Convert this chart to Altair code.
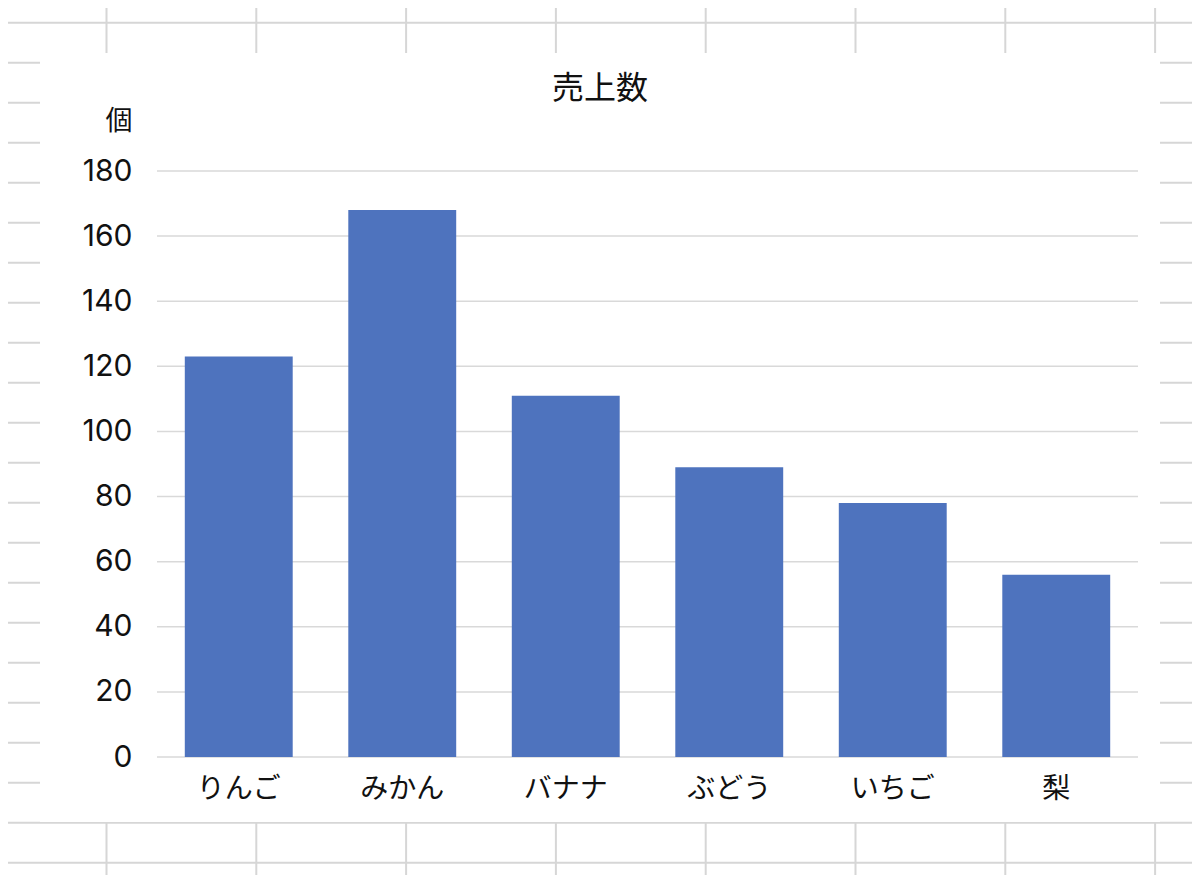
import altair as alt
import pandas as pd

# ---- data ----
categories = ["りんご", "みかん", "バナナ", "ぶどう", "いちご", "梨"]
sales = [123, 168, 111, 89, 78, 56]
y_ticks = [0, 20, 40, 60, 80, 100, 120, 140, 160, 180]
title_text = "売上数"
unit_label = "個"

df = pd.DataFrame({"fruit": categories, "sales": sales})
grid_df = pd.DataFrame({"v": y_ticks})
title_df = pd.DataFrame({"t": [title_text]})
dummy = pd.DataFrame({"d": [0]})

FONT = "Inter, Noto Sans CJK JP"
TEXT = "#111111"
BAR = "#4E73BE"
GRID = "#D9D9D9"
SHEET = "#D6D6D6"

W, H = 981, 586          # plot area
OX, OY = 157, 171        # page position of plot origin
PAGE_W, PAGE_H = 1200, 883

y_scale = alt.Scale(domain=[0, 180], nice=False)
y_axis = alt.Axis(
    values=y_ticks, grid=False, domain=False, ticks=False,
    labelFont=FONT, labelFontSize=30, labelColor=TEXT, labelPadding=25,
    title=unit_label, titleAngle=0, titleAlign="right", titleBaseline="middle",
    titleX=-25, titleY=-50, titleFont=FONT, titleFontSize=27,
    titleFontWeight="normal", titleColor=TEXT, zindex=1,
)

layers = []
# spreadsheet background grid (decoration)
for k in range(8):
    px = 106.5 + 149.8 * k - OX
    layers.append(
        alt.Chart(dummy).mark_rule(color=SHEET, strokeWidth=2).encode(
            x=alt.value(px), y=alt.value(-OY), y2=alt.value(PAGE_H - OY)
        )
    )
for k in range(22):
    py = 22.7 + 40 * k - OY
    layers.append(
        alt.Chart(dummy).mark_rule(color=SHEET, strokeWidth=2).encode(
            y=alt.value(py), x=alt.value(-OX), x2=alt.value(PAGE_W - OX)
        )
    )

# white chart area
panel = alt.Chart(dummy).mark_rect(color="white").encode(
    x=alt.value(40 - OX), x2=alt.value(1160 - OX),
    y=alt.value(53 - OY), y2=alt.value(822 - OY),
)
layers.append(panel)

# chart title (centred on the chart area)
title = alt.Chart(title_df).mark_text(
    font=FONT, fontSize=32, color=TEXT, align="center", baseline="middle"
).encode(
    text="t:N", x=alt.value(600 - OX), y=alt.value(89 - OY)
)
layers.append(title)

# horizontal gridlines
grid = alt.Chart(grid_df).mark_rule(color=GRID, strokeWidth=1.5).encode(
    y=alt.Y("v:Q", scale=y_scale, axis=y_axis),
    x=alt.value(0), x2=alt.value(W),
)
layers.append(grid)

bars = alt.Chart(df).mark_bar(color=BAR).encode(
    x=alt.X(
        "fruit:N", sort=None,
        scale=alt.Scale(paddingInner=0.34, paddingOuter=0.17),
        axis=alt.Axis(
            title=None, labelAngle=0, domain=False, ticks=False,
            labelFont=FONT, labelFontSize=28, labelColor=TEXT,
            labelPadding=18, zindex=1,
        ),
    ),
    y=alt.Y("sales:Q", scale=y_scale, axis=y_axis),
)
layers.append(bars)

chart = alt.layer(*layers).properties(
    width=W, height=H,
    autosize=alt.AutoSizeParams(type="none"),
    padding={"left": OX - 8, "top": OY - 8, "right": PAGE_W - 16 - (OX - 8) - W,
             "bottom": PAGE_H - 16 - (OY - 8) - H},
    background="white",
).configure_view(stroke=None)

chart.save("out.html", embed_options={"renderer": "svg", "actions": False})
